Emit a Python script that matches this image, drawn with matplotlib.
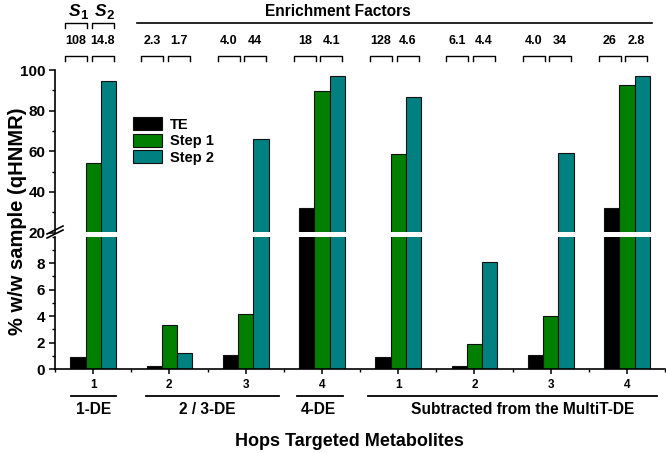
import matplotlib
matplotlib.use("Agg")
import matplotlib.pyplot as plt
import numpy as np
from matplotlib.transforms import blended_transform_factory

plt.rcParams["font.family"] = ["Liberation Sans", "DejaVu Sans"]
plt.rcParams["font.weight"] = "bold"

# data
positions = np.arange(1, 9)
tick_labels = ["1", "2", "3", "4", "1", "2", "3", "4"]
te = [0.95, 0.28, 1.08, 31.9, 0.95, 0.28, 1.08, 31.9]
step1 = [54.4, 3.36, 4.16, 89.9, 58.6, 1.9, 4.0, 92.7]
step2 = [94.4, 1.2, 66.0, 97.2, 86.7, 8.07, 59.0, 97.2]
ef_first = ["108", "2.3", "4.0", "18", "128", "6.1", "4.0", "26"]
ef_second = ["14.8", "1.7", "44", "4.1", "4.6", "4.4", "34", "2.8"]
class_names = ["1-DE", "2 / 3-DE", "4-DE", "Subtracted from the MultiT-DE"]
class_spans = [(0.706, 1.30), (1.69, 3.44), (3.68, 4.28), (4.60, 8.40)]
class_centers = [1.0, 2.5, 3.95, 6.63]

W, H = 666, 453
fig = plt.figure(figsize=(W / 100, H / 100), dpi=100)


def fy(px):
    return 1 - px / H


left, right = 55 / W, 665 / W
ax_top = fig.add_axes([left, fy(232.5), right - left, fy(70) - fy(232.5)])
ax_bot = fig.add_axes([left, fy(369.3), right - left, fy(236.5) - fy(369.3)])

c_te, c_s1, c_s2 = "black", "#007f00", "#008080"
w = 0.2
for ax in (ax_top, ax_bot):
    ax.bar(positions - w, te, w, color=c_te, edgecolor="#111111", lw=0.8, label="TE")
    ax.bar(positions, step1, w, color=c_s1, edgecolor="#111111", lw=0.8, label="Step 1")
    ax.bar(positions + w, step2, w, color=c_s2, edgecolor="#111111", lw=0.8, label="Step 2")
    ax.set_xlim(0.5, 8.5)
    ax.spines["right"].set_visible(False)
    ax.spines["top"].set_visible(False)
    ax.spines["left"].set_linewidth(1.2)
    ax.spines["bottom"].set_linewidth(1.2)
    ax.tick_params(axis="y", which="major", length=4.5, width=1.1, pad=2.5, labelsize=11)
    ax.tick_params(axis="y", which="minor", length=2.5, width=1.0)

ax_top.set_ylim(20, 100)
ax_top.set_yticks([20, 40, 60, 80, 100])
ax_top.set_yticks([30, 50, 70, 90], minor=True)
ax_top.spines["bottom"].set_visible(False)
ax_top.set_xticks([])

ax_bot.set_ylim(0, 10)
ax_bot.set_yticks([0, 2, 4, 6, 8])
ax_bot.set_yticks([1, 3, 5, 7, 9, 10], minor=True)
ax_bot.set_xticks(positions)
ax_bot.set_xticklabels(tick_labels, fontsize=8.5, fontweight="bold")
ax_bot.set_xticks(np.arange(0.5, 9.0, 1.0), minor=True)
ax_bot.tick_params(axis="x", which="major", length=3.8, width=1.1, pad=3.5)
ax_bot.tick_params(axis="x", which="minor", length=2.5, width=1.0)

# axis break marks
for dy in (0, 4):
    fig.add_artist(plt.Line2D([47 / W, 63 / W], [fy(238 + dy - 4), fy(230 + dy - 4)],
                              color="black", lw=1.2))

# legend
ax_top.legend(loc="upper left", bbox_to_anchor=(133 / W, fy(117)), bbox_transform=fig.transFigure,
              frameon=False, fontsize=10.5, handlelength=2.0, handleheight=1.0,
              labelspacing=0.15, handletextpad=0.55, borderpad=0, borderaxespad=0)

# enrichment factor annotations
tr = blended_transform_factory(ax_top.transData, fig.transFigure)


def bracket(x0, x1, y_px):
    ax_top.plot([x0, x0, x1, x1], [fy(y_px + 4.5), fy(y_px), fy(y_px), fy(y_px + 4.5)],
                transform=tr, color="black", lw=1.0, clip_on=False)


for i, c in enumerate(positions):
    a0, a1 = c - 0.367, c - 0.079
    b0, b1 = c - 0.02, c + 0.27
    bracket(a0, a1, 56)
    bracket(b0, b1, 56)
    ax_top.text((a0 + a1) / 2, fy(41.5), ef_first[i], transform=tr, ha="center", va="center",
                fontsize=9, fontweight="bold")
    ax_top.text((b0 + b1) / 2, fy(41.5), ef_second[i], transform=tr, ha="center", va="center",
                fontsize=9, fontweight="bold")
    if i == 0:
        bracket(a0, a1, 23)
        bracket(b0, b1, 23)
        for k, (x0, x1) in enumerate([(a0, a1), (b0, b1)]):
            xc = (x0 + x1) / 2
            ax_top.annotate("S", xy=(xc, fy(15.5)), xycoords=tr, xytext=(4, 0),
                            textcoords="offset pixels", ha="right", va="baseline",
                            fontsize=12.5, fontweight="bold", fontstyle="italic")
            ax_top.annotate(str(k + 1), xy=(xc, fy(19)), xycoords=tr, xytext=(4, 0),
                            textcoords="offset pixels", ha="left", va="baseline",
                            fontsize=9.5, fontweight="bold")

ax_top.plot([1.58, 8.33], [fy(23), fy(23)], transform=tr, color="black", lw=1.2, clip_on=False)
ax_top.text(4.21, fy(12), "Enrichment Factors", transform=tr, ha="center", va="center",
            fontsize=11.2, fontweight="bold")

# class labels under the axis
trb = blended_transform_factory(ax_bot.transData, fig.transFigure)
for name, (x0, x1), xc in zip(class_names, class_spans, class_centers):
    ax_bot.plot([x0, x1], [fy(395.7), fy(395.7)], transform=trb, color="black", lw=1.3, clip_on=False)
    ax_bot.text(xc, fy(409), name, transform=trb, ha="center", va="center",
                fontsize=11.2, fontweight="bold")

ax_bot.text(4.36, fy(442), "Hops Targeted Metabolites", transform=trb, ha="center", va="center",
            fontsize=13, fontweight="bold")
fig.text(0.026, fy(221), "% w/w sample (qHNMR)", rotation=90, ha="center", va="center",
         fontsize=14.5, fontweight="bold")

fig.savefig("out.png", dpi=100)
